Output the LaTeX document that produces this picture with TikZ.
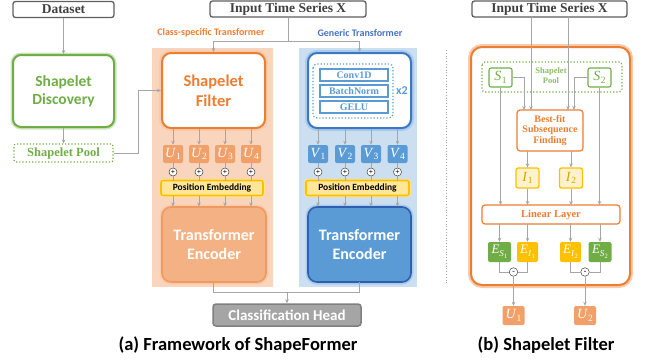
\documentclass[tikz,border=0pt]{standalone}
\usepackage{fontspec}
\setmainfont{Liberation Serif}
\setsansfont{Carlito}
\usetikzlibrary{arrows.meta,calc}

\definecolor{orng}{HTML}{ED7D31}
\definecolor{orngglow}{HTML}{F8CBAD}
\definecolor{orngenc}{HTML}{F4B183}
\definecolor{orngencb}{HTML}{F19A60}
\definecolor{orngtok}{HTML}{F2A06A}
\definecolor{orngbg}{HTML}{F9D5BD}
\definecolor{blutxt}{HTML}{4472C4}
\definecolor{blufill}{HTML}{5B9BD5}
\definecolor{bluborder}{HTML}{3A78C4}
\definecolor{bludark}{HTML}{2F5FB0}
\definecolor{bluglow}{HTML}{A9CBEC}
\definecolor{blubg}{HTML}{CCDFF1}
\definecolor{grn}{HTML}{70AD47}
\definecolor{grnglow}{HTML}{CDE5BE}
\definecolor{yel}{HTML}{FFC000}
\definecolor{yelfill}{HTML}{FFE699}
\definecolor{yelglow}{HTML}{FFE48A}
\definecolor{yellite}{HTML}{FFF2CC}
\definecolor{gryline}{HTML}{A6A6A6}
\definecolor{grybox}{HTML}{5F5F5F}
\definecolor{grytxt}{HTML}{404040}
\definecolor{headfill}{HTML}{A5A5A5}
\definecolor{headborder}{HTML}{7F7F7F}

\newcommand\fsz[2]{\fontsize{#1}{#2}\selectfont}
% italic symbol with a lowered index
\newcommand\sym[2]{\textit{#1}\kern0.3pt\raisebox{-2.8pt}{\fsz{9.5}{9.5}#2}}
% italic symbol with an italic lowered index that carries its own index
\newcommand\symtwo[3]{\textit{#1}\raisebox{-3pt}{\fsz{9}{9}\textit{#2}\kern0.2pt\raisebox{-1.6pt}{\fsz{6.5}{6.5}#3}}}

\tikzset{
  ln/.style={draw=gryline, line width=0.8pt},
  arr/.style={draw=gryline, line width=0.8pt, -{Stealth[length=4pt,width=3.5pt]}},
  inbox/.style={draw=grybox, line width=1.3pt, rounded corners=2.5pt, fill=white,
    text=grytxt, font=\bfseries\fsz{13.5}{14}, inner sep=0pt},
  greenbig/.style={draw=grn, line width=2pt, rounded corners=8pt, fill=white,
    preaction={draw=grnglow, line width=5pt}, text=grn, font=\sffamily\bfseries\fsz{15.5}{18},
    align=center, inner sep=0pt},
  orangebig/.style={draw=orng, line width=2pt, rounded corners=9pt, fill=white,
    preaction={draw=orngglow, line width=6pt}, inner sep=0pt},
  bluebig/.style={draw=bluborder, line width=2pt, rounded corners=9pt, fill=white,
    preaction={draw=bluglow, line width=6pt}, inner sep=0pt},
  encorng/.style={draw=orngencb, line width=1.6pt, rounded corners=9pt, fill=orngenc,
    preaction={draw=orngglow, line width=5pt}, text=white,
    font=\sffamily\bfseries\fsz{16}{19}, align=center, inner sep=0pt},
  encblue/.style={draw=bludark, line width=1.6pt, rounded corners=9pt, fill=blufill,
    preaction={draw=bluglow, line width=5pt}, text=white,
    font=\sffamily\bfseries\fsz{16}{19}, align=center, inner sep=0pt},
  tokorng/.style={fill=orngtok, rounded corners=2pt, minimum width=20pt, minimum height=18pt,
    text=white, inner sep=0pt, font=\fsz{14}{14}},
  tokblue/.style={fill=blufill, rounded corners=2pt, minimum width=20pt, minimum height=18pt,
    text=white, inner sep=0pt, font=\fsz{14}{14}},
  plus/.style={circle, draw=grytxt, line width=0.5pt, fill=white, minimum size=8pt,
    inner sep=0pt, font=\bfseries\fsz{7.5}{7.5}},
  posemb/.style={draw=yel, line width=1.6pt, rounded corners=2pt, fill=yelfill,
    preaction={draw=yelglow, line width=3.5pt}, minimum height=15pt, inner sep=0pt,
    font=\sffamily\bfseries\fsz{9.5}{10}, text=black},
  layer/.style={draw=blufill, line width=1.2pt, fill=white, minimum width=68pt,
    minimum height=12pt, inner sep=0pt, text=blufill, font=\bfseries\fsz{10}{10}},
  sbox/.style={draw=grn, line width=1.1pt, rounded corners=2pt, fill=white, text=grn,
    minimum width=23pt, minimum height=19pt, inner sep=0pt, font=\fsz{14}{14}},
  ibox/.style={draw=yel, line width=1.3pt, rounded corners=2pt, fill=yellite, text=yel!85!black,
    minimum width=23pt, minimum height=20pt, inner sep=0pt, font=\fsz{14}{14}},
  obox/.style={draw=orng, line width=1.2pt, rounded corners=3pt, fill=white, text=orng,
    inner sep=0pt, font=\bfseries\fsz{10}{10.5}, align=center},
  eboxg/.style={fill=grn, rounded corners=2pt, minimum width=23pt, minimum height=20pt,
    inner sep=0pt, text=white, font=\fsz{13}{13}},
  eboxy/.style={fill=yel, rounded corners=2pt, minimum width=21pt, minimum height=20pt,
    inner sep=0pt, text=white, font=\fsz{13}{13}},
  minus/.style={circle, draw=grytxt, line width=0.5pt, fill=white, minimum size=8.5pt,
    inner sep=0pt, font=\bfseries\fsz{7.5}{7.5}},
  caption/.style={font=\sffamily\bfseries\fsz{18.5}{20}, text=black}
}

\begin{document}
\begin{tikzpicture}[x=1pt,y=-1pt]
\useasboundingbox (0,0) rectangle (646,362);

% ---------------- (a) framework ----------------
% backgrounds of the two branches
\fill[orngbg] (152,48) rectangle (273,287);
\fill[blubg] (299,48) rectangle (417,287);

\node[text=orng, font=\sffamily\bfseries\fsz{10}{10}] (lblcs) at (211,33) {Class-specific Transformer};
\node[text=blutxt, font=\sffamily\bfseries\fsz{10}{10}] (lblgt) at (360,33) {Generic Transformer};

% shapelet discovery column
\node[inbox, minimum width=101pt, minimum height=16pt] (dataset) at (63.5,9.5) {Dataset};
\node[greenbig, minimum width=101pt, minimum height=72pt] (disc) at (63.5,91) {Shapelet\\Discovery};
\node[draw=grn, dotted, line width=1.2pt, rounded corners=2pt, minimum width=99pt, minimum height=18pt,
      inner sep=0pt, text=grn, font=\bfseries\fsz{12.5}{13}] (pool) at (63.5,153) {Shapelet Pool};
\draw[arr] (dataset) -- (disc);
\draw[arr] (disc) -- (pool);

% input
\node[inbox, minimum width=156pt, minimum height=16pt] (inpa) at (288,9) {Input Time Series X};

% class-specific branch
\node[orangebig, minimum width=103pt, minimum height=75pt, text=orng,
      font=\sffamily\bfseries\fsz{16.5}{20}, align=center] (filter) at (213.5,90.5) {Shapelet\\Filter};

% generic branch
\node[bluebig, minimum width=103pt, minimum height=75pt] (generic) at (359.5,90.5) {};
\draw[blufill, dotted, line width=1.2pt, rounded corners=4pt] (313,64) rectangle (393,118);
\node[layer] (conv) at (354,75) {Conv1D};
\node[layer] (bn) at (354,91) {BatchNorm};
\node[layer] (gelu) at (354,107) {GELU};
\node[text=blufill, font=\sffamily\bfseries\fsz{12}{12}] (times) at (402,91) {x2};

% input distribution
\coordinate (ja) at (288,41);
\draw[ln] (inpa.south) -- (ja);
\draw[arr] (ja) -| (filter.north);
\draw[arr] (ja) -| (generic.north);

% pool to filter
\coordinate (pb) at (138,153);
\draw[arr] (pool.east) -- (pb) |- (filter.west);

% tokens
\foreach \i/\x in {1/173,2/199,3/225,4/251} {
  \node[tokorng] (u\i) at (\x,154) {\sym{U}{\i}};
  \node[plus] (pu\i) at (\x,172) {+};
  \draw[arr] (\x,128.5) -- (u\i.north);
  \draw[ln] (u\i.south) -- (pu\i.north);
}
\foreach \i/\x in {1/318,2/345,3/371,4/397.5} {
  \node[tokblue] (v\i) at (\x,154) {\sym{V}{\i}};
  \node[plus] (pv\i) at (\x,172) {+};
  \draw[arr] (\x,128.5) -- (v\i.north);
  \draw[ln] (v\i.south) -- (pv\i.north);
}

\node[posemb, minimum width=102pt] (pea) at (212,188) {Position Embedding};
\node[posemb, minimum width=103pt] (peb) at (357.5,188) {Position Embedding};

\node[encorng, minimum width=104pt, minimum height=75pt] (enca) at (214,244.5) {Transformer\\Encoder};
\node[encblue, minimum width=103pt, minimum height=75pt] (encb) at (359.5,244.5) {Transformer\\Encoder};

\foreach \i/\x in {1/173,2/199,3/225,4/251} {
  \draw[ln] (pu\i.south) -- (\x,180.5);
  \draw[arr] (\x,196) -- (\x,206.5);
}
\foreach \i/\x in {1/318,2/345,3/371,4/397.5} {
  \draw[ln] (pv\i.south) -- (\x,180.5);
  \draw[arr] (\x,196) -- (\x,206.5);
}

% classification head
\node[draw=headborder, line width=1.5pt, rounded corners=3pt, fill=headfill, minimum width=148pt,
      minimum height=22pt, inner sep=0pt, text=white, font=\sffamily\bfseries\fsz{15}{16}] (head)
      at (287,315) {Classification Head};
\coordinate (jl) at (213,292);
\coordinate (jr) at (359,292);
\coordinate (jm) at (287,292);
\draw[ln] (213,282) -- (jl) -- (jr) -- (359,282);
\draw[arr] (jm) -- (head.north);

\node[caption] (capa) at (238,345) {(a) Framework of ShapeFormer};

% separator
\draw[gryline, dotted, line width=0.8pt] (446,50) -- (446,284);

% ---------------- (b) shapelet filter ----------------
\node[inbox, minimum width=155pt, minimum height=16pt] (inpb) at (549.5,9) {Input Time Series X};
\draw[orng, line width=2pt, rounded corners=11pt, fill=white,
      preaction={draw=orngglow, line width=6pt}] (471,47) rectangle (630,285);
\draw[grn, dotted, line width=1.2pt, rounded corners=3pt] (482,62) rectangle (622,92);
\node[text=grn!80!white, font=\bfseries\fsz{8.5}{10}, align=center] (pooltxt) at (551,76) {Shapelet\\Pool};

\node[sbox] (s1) at (500.5,77.5) {\sym{S}{1}};
\node[sbox] (s2) at (599.5,77.5) {\sym{S}{2}};

\node[obox, minimum width=66pt, minimum height=41pt] (best) at (550,130.5) {Best-fit\\Subsequence\\Finding};
\node[ibox] (i1) at (527.5,178) {\sym{I}{1}};
\node[ibox] (i2) at (571,178) {\sym{I}{2}};
\node[obox, minimum width=138pt, minimum height=19pt, font=\bfseries\fsz{10.5}{11}] (linear) at (551,214.5) {Linear Layer};

\node[eboxg] (es1) at (499.5,252) {\symtwo{E}{S}{1}};
\node[eboxy] (ei1) at (527.5,252) {\symtwo{E}{I}{1}};
\node[eboxy] (ei2) at (570.5,252) {\symtwo{E}{I}{2}};
\node[eboxg] (es2) at (600,252) {\symtwo{E}{S}{2}};

\node[minus] (m1) at (513.5,272) {-};
\node[minus] (m2) at (585,272) {-};

\node[tokorng, minimum width=22pt, minimum height=19pt] (o1) at (513.5,315.5) {\sym{U}{1}};
\node[tokorng, minimum width=22pt, minimum height=19pt] (o2) at (585,315.5) {\sym{U}{2}};

% wiring
\draw[arr] (531,17) -- (531,110);
\draw[arr] (568,17) -- (568,110);
\draw[arr] (s1.east) -| (524,110);
\draw[arr] (s2.west) -| (574,110);
\draw[arr] (s1.south) -- (500.5,205);
\draw[arr] (s2.south) -- (599.5,205);
\draw[arr] (527.5,151) -- (i1.north);
\draw[arr] (571,151) -- (i2.north);
\draw[arr] (i1.south) -- (527.5,205);
\draw[arr] (i2.south) -- (571,205);
\draw[arr] (499.5,224) -- (es1.north);
\draw[arr] (527.5,224) -- (ei1.north);
\draw[arr] (570.5,224) -- (ei2.north);
\draw[arr] (600,224) -- (es2.north);
\draw[ln] (es1.south) |- (m1.west);
\draw[ln] (ei1.south) |- (m1.east);
\draw[ln] (ei2.south) |- (m2.west);
\draw[ln] (es2.south) |- (m2.east);
\draw[arr] (m1.south) -- (o1.north);
\draw[arr] (m2.south) -- (o2.north);

\node[caption] (capb) at (546,345) {(b) Shapelet Filter};
\end{tikzpicture}
\end{document}
